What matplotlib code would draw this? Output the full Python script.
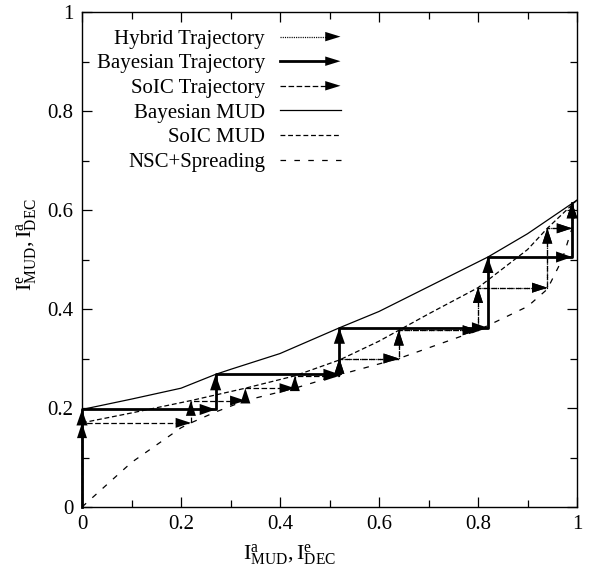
import matplotlib
matplotlib.use("Agg")
import matplotlib.pyplot as plt
from matplotlib.lines import Line2D
from matplotlib.patches import Polygon
from matplotlib.legend_handler import HandlerLine2D

plt.rcParams['font.family'] = 'Liberation Serif'
plt.rcParams['mathtext.fontset'] = 'custom'
plt.rcParams['mathtext.rm'] = 'Liberation Serif'
plt.rcParams['mathtext.it'] = 'Liberation Serif:italic'
plt.rcParams['lines.scale_dashes'] = False

# EXIT curves
bayes_mud_x = [0.0, 0.1, 0.2, 0.27, 0.3, 0.4, 0.52, 0.6, 0.7, 0.8, 0.82, 0.9, 1.0]
bayes_mud_y = [0.197, 0.218, 0.24, 0.268, 0.278, 0.31, 0.362, 0.395, 0.445, 0.495, 0.505, 0.552, 0.62]

soic_mud_x = [0.0, 0.1, 0.22, 0.33, 0.43, 0.52, 0.6, 0.64, 0.7, 0.8, 0.9, 0.94, 1.0]
soic_mud_y = [0.17, 0.19, 0.215, 0.24, 0.265, 0.297, 0.335, 0.357, 0.39, 0.443, 0.52, 0.563, 0.62]

nsc_x = [0.0, 0.1, 0.2, 0.22, 0.27, 0.33, 0.43, 0.52, 0.64, 0.8, 0.9, 0.94, 0.97, 0.99, 1.0]
nsc_y = [0.0, 0.09, 0.16, 0.17, 0.192, 0.215, 0.24, 0.267, 0.30, 0.357, 0.405, 0.44, 0.5, 0.563, 0.61]

# decoding trajectories (staircase corners)
bayes_traj_x = [0.0, 0.0, 0.27, 0.27, 0.52, 0.52, 0.82, 0.82, 0.99, 0.99]
bayes_traj_y = [0.0, 0.197, 0.197, 0.268, 0.268, 0.362, 0.362, 0.505, 0.505, 0.615]

soic_traj_x = [0.0, 0.0, 0.22, 0.22, 0.33, 0.33, 0.43, 0.43, 0.52, 0.52, 0.64, 0.64, 0.8, 0.8, 0.94, 0.94, 0.99, 0.99]
soic_traj_y = [0.0, 0.17, 0.17, 0.215, 0.215, 0.24, 0.24, 0.265, 0.265, 0.30, 0.30, 0.357, 0.357, 0.443, 0.443, 0.563, 0.563, 0.615]

hybrid_traj_x = [0.52, 0.52, 0.64, 0.64, 0.8, 0.8, 0.94, 0.94, 0.99, 0.99]
hybrid_traj_y = [0.268, 0.30, 0.30, 0.357, 0.357, 0.443, 0.443, 0.563, 0.563, 0.615]

ticks = [0, 0.2, 0.4, 0.6, 0.8, 1]
tick_labels = ['0', '0.2', '0.4', '0.6', '0.8', '1']

FS = 15


def draw_traj(ax, xs, ys, lw, ls, hl, hw):
    ax.plot(xs, ys, color='black', lw=lw, linestyle=ls, clip_on=False, zorder=3)
    for i in range(len(xs) - 1):
        ax.annotate('', xy=(xs[i + 1], ys[i + 1]), xytext=(xs[i], ys[i]),
                    arrowprops=dict(arrowstyle='-|>,head_length=%g,head_width=%g' % (hl, hw),
                                    lw=0, color='black', shrinkA=0, shrinkB=0,
                                    mutation_scale=10),
                    annotation_clip=False, zorder=4)


class HandlerArrow(HandlerLine2D):
    def create_artists(self, legend, orig_handle, xdescent, ydescent,
                       width, height, fontsize, trans):
        y = height / 2 - ydescent
        x0 = -xdescent
        x1 = width - xdescent
        hl, hw = 11, 3.4
        line = Line2D([x0, x1 - hl + 1], [y, y])
        self.update_prop(line, orig_handle, legend)
        line.set_transform(trans)
        head = Polygon([(x1 - hl, y - hw), (x1, y), (x1 - hl, y + hw)],
                       closed=True, facecolor='black', edgecolor='none', transform=trans)
        return [line, head]


fig = plt.figure(figsize=(5.92, 5.71), dpi=100)
ax = fig.add_axes([82 / 592, 1 - 507 / 571, 495 / 592, 495 / 571])

l_bm, = ax.plot(bayes_mud_x, bayes_mud_y, color='black', lw=0.9, label='Bayesian MUD')
l_sm, = ax.plot(soic_mud_x, soic_mud_y, color='black', lw=0.9, linestyle=(0, (3.5, 2)),
                label='SoIC MUD')
l_nsc, = ax.plot(nsc_x, nsc_y, color='black', lw=0.9, linestyle=(0, (4, 6)),
                 label='NSC+Spreading')

draw_traj(ax, soic_traj_x, soic_traj_y, 0.9, (0, (4, 1.8)), 1.1, 0.36)
draw_traj(ax, hybrid_traj_x, hybrid_traj_y, 0.9, (0, (0.8, 0.8)), 1.1, 0.36)
draw_traj(ax, bayes_traj_x, bayes_traj_y, 2.0, '-', 1.15, 0.4)

h_hyb = Line2D([], [], color='black', lw=0.9, linestyle=(0, (0.8, 0.8)))
h_bay = Line2D([], [], color='black', lw=2.0, linestyle='-')
h_soic = Line2D([], [], color='black', lw=0.9, linestyle=(0, (4, 1.8)))

leg = ax.legend([h_hyb, h_bay, h_soic, l_bm, l_sm, l_nsc],
                ['Hybrid Trajectory', 'Bayesian Trajectory', 'SoIC Trajectory',
                 'Bayesian MUD', 'SoIC MUD', 'NSC+Spreading'],
                handler_map={h_hyb: HandlerArrow(), h_bay: HandlerArrow(), h_soic: HandlerArrow()},
                loc='upper left', bbox_to_anchor=(0.03, 0.965), frameon=False,
                markerfirst=False, fontsize=FS, handlelength=2.9, handletextpad=0.72,
                labelspacing=0.24, borderpad=0, borderaxespad=0)
for col in leg._legend_handle_box.get_children():
    col.align = 'right'

ax.set_xlim(0, 1)
ax.set_ylim(0, 1)
ax.set_xticks(ticks)
ax.set_xticklabels(tick_labels)
ax.set_yticks(ticks)
ax.set_yticklabels(tick_labels)
ax.set_xticks([0.1, 0.3, 0.5, 0.7, 0.9], minor=True)
ax.set_yticks([0.1, 0.3, 0.5, 0.7, 0.9], minor=True)
ax.tick_params(which='both', direction='in', top=True, right=True, labelsize=FS, width=0.9)
ax.tick_params(which='major', length=7, pad=6)
ax.tick_params(which='minor', length=5)
for s in ax.spines.values():
    s.set_linewidth(1.0)

ax.set_xlabel(r'$\mathregular{I^a_{MUD}, I^e_{DEC}}$', fontsize=FS + 1)
ax.set_ylabel(r'$\mathregular{I^e_{MUD}, I^a_{DEC}}$', fontsize=FS + 1)
ax.xaxis.set_label_coords(0.42, -0.072)
ax.yaxis.set_label_coords(-0.085, 0.53)

fig.savefig('out.png', dpi=100)
